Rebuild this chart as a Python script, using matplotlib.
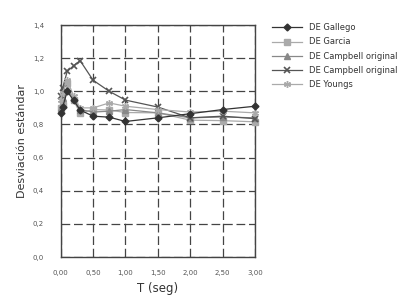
import matplotlib.pyplot as plt

# periodos (s)
T = [0.0, 0.03, 0.1, 0.2, 0.3, 0.5, 0.75, 1.0, 1.5, 2.0, 2.5, 3.0]

gallego = [0.87, 0.905, 1.0, 0.945, 0.887, 0.85, 0.844, 0.818, 0.84, 0.865, 0.89, 0.91]
garcia = [0.90, 0.915, 1.05, 0.945, 0.867, 0.89, 0.887, 0.872, 0.87, 0.826, 0.823, 0.816]
campbell_tri = [0.90, 0.96, 1.01, 0.96, 0.89, 0.875, 0.88, 0.89, 0.87, 0.84, 0.845, 0.84]
campbell_x = [0.97, 1.02, 1.12, 1.155, 1.185, 1.067, 1.0, 0.947, 0.905, 0.84, 0.85, 0.835]
youngs = [0.95, 0.99, 1.07, 0.97, 0.90, 0.90, 0.93, 0.91, 0.89, 0.875, 0.88, 0.87]

labels = ['DE Gallego', 'DE Garcia', 'DE Campbell original',
          'DE Campbell original', 'DE Youngs']
yticks = [0.0, 0.2, 0.4, 0.6, 0.8, 1.0, 1.2, 1.4]
xticks = [0.0, 0.5, 1.0, 1.5, 2.0, 2.5, 3.0]

fig = plt.figure(figsize=(4.01, 3.04), dpi=100)
ax = fig.add_axes([0.1514, 0.1546, 0.4845, 0.763])

ax.plot(T, gallego, color='#333333', lw=0.9, marker='D', ms=3.5, label=labels[0], clip_on=False, zorder=5)
ax.plot(T, garcia, color='#aaaaaa', lw=0.9, marker='s', ms=5, label=labels[1], clip_on=False, zorder=4)
ax.plot(T, campbell_tri, color='#888888', lw=0.9, marker='^', ms=4, label=labels[2], clip_on=False, zorder=4)
ax.plot(T, campbell_x, color='#555555', lw=0.9, marker='x', ms=4, mew=1.2, label=labels[3], clip_on=False, zorder=4)
ax.plot(T, youngs, color='#aaaaaa', lw=0.9, marker=(6, 2, 0), ms=5, mew=1, label=labels[4], clip_on=False, zorder=4)

ax.set_xlim(0, 3)
ax.set_ylim(0, 1.4)
ax.set_xticks(xticks)
ax.set_yticks(yticks)
ax.set_xticklabels(['{:.2f}'.format(v).replace('.', ',') for v in xticks], fontsize=5, color='#555555')
ax.set_yticklabels(['{:.1f}'.format(v).replace('.', ',') for v in yticks], fontsize=5, color='#555555')
ax.tick_params(length=0, pad=9)
ax.tick_params(axis='y', pad=12)
ax.grid(True, color='#444444', ls=(0, (7, 3)), lw=0.9)
for s in ax.spines.values():
    s.set_color('#444444')
    s.set_linewidth(1.0)

ax.set_xlabel('T (seg)', fontsize=8.5, color='#333333', labelpad=5)
ax.set_ylabel('Desviación estándar', fontsize=8, color='#333333', labelpad=4)

ax.legend(loc='upper left', bbox_to_anchor=(1.05, 1.04), frameon=False, fontsize=6,
          handlelength=3.6, labelspacing=0.62, handletextpad=0.8, labelcolor='#333333')

fig.savefig('out.png')
